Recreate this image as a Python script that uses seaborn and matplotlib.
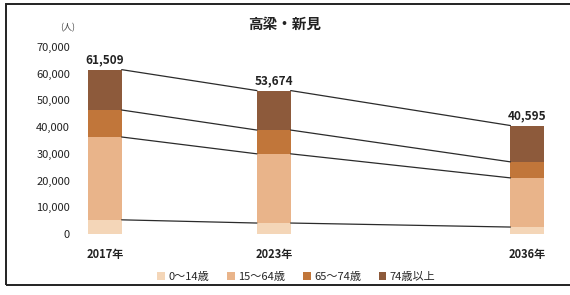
import matplotlib
matplotlib.use("Agg")
import matplotlib.pyplot as plt
from matplotlib.patches import Patch, Rectangle
import seaborn as sns
import pandas as pd

# data
years = ["2017年", "2023年", "2036年"]
groups = ["0～14歳", "15～64歳", "65～74歳", "74歳以上"]
age_0_14 = [5300, 4100, 2600]
age_15_64 = [31000, 25900, 18400]
age_65_74 = [10100, 8900, 6000]
age_75_up = [15109, 14774, 13595]
yticks = [0, 10000, 20000, 30000, 40000, 50000, 60000, 70000]

# layout only
x_pos = [0, 1, 2.5]
bar_w = 0.2
colors = ["#f4d6b8", "#e9b48a", "#c1763a", "#8d5a3b"]

sns.set_theme(style="white")
plt.rcParams["font.family"] = ["Noto Sans CJK JP", "DejaVu Sans"]

series = [age_0_14, age_15_64, age_65_74, age_75_up]
cum = []
run = [0, 0, 0]
for s in series:
    run = [a + b for a, b in zip(run, s)]
    cum.append(run)
totals = cum[-1]

fig = plt.figure(figsize=(5.7, 2.95), dpi=100)
ax = fig.add_axes([0.14, 0.2068, 0.842, 0.634])

# stacked bars: draw tallest cumulative first
for i in range(3, -1, -1):
    df = pd.DataFrame({"x": x_pos, "y": cum[i]})
    sns.barplot(data=df, x="x", y="y", native_scale=True, width=bar_w,
                color=colors[i], saturation=1, linewidth=0, ax=ax)

# connector lines between bars
for i in range(4):
    for j in range(len(x_pos) - 1):
        ax.plot([x_pos[j] + bar_w / 2, x_pos[j + 1] - bar_w / 2],
                [cum[i][j], cum[i][j + 1]], color="#2b2b2b", lw=0.9)

for x, t in zip(x_pos, totals):
    ax.text(x, t + 1200, f"{t:,}", ha="center", va="bottom",
            fontsize=8.5, fontweight="bold", color="#222222")

ax.set_xlim(-0.148, 2.692)
ax.set_ylim(0, 70000)
ax.set_yticks(yticks)
ax.set_yticklabels([f"{v:,}" for v in yticks], fontsize=8, color="#222222")
ax.set_xticks(x_pos)
ax.set_xticklabels(years, fontsize=8, fontweight="bold", color="#222222")
ax.tick_params(axis="y", length=0, pad=7)
ax.tick_params(axis="x", length=0, pad=10)
ax.set_xlabel("")
ax.set_ylabel("")
for sp in ax.spines.values():
    sp.set_visible(False)

fig.text(0.5, 0.918, "高梁・新見", ha="center", va="center", fontsize=10.5,
         fontweight="bold", color="#222222")
fig.text(0.118, 0.905, "(人)", ha="center", va="center", fontsize=6.5, color="#444444")

handles = [Patch(facecolor=c, edgecolor="none") for c in colors]
fig.legend(handles, groups, loc="center", bbox_to_anchor=(0.52, 0.062), ncol=4,
           frameon=False, fontsize=8, handlelength=0.7, handleheight=0.7,
           handletextpad=0.3, columnspacing=1.6)

# outer frame
fig.patches.append(Rectangle((0.011, 0.034), 1.2, 0.952, transform=fig.transFigure,
                             fill=False, edgecolor="#222222", lw=1.4))

fig.savefig("out.png", dpi=100)
